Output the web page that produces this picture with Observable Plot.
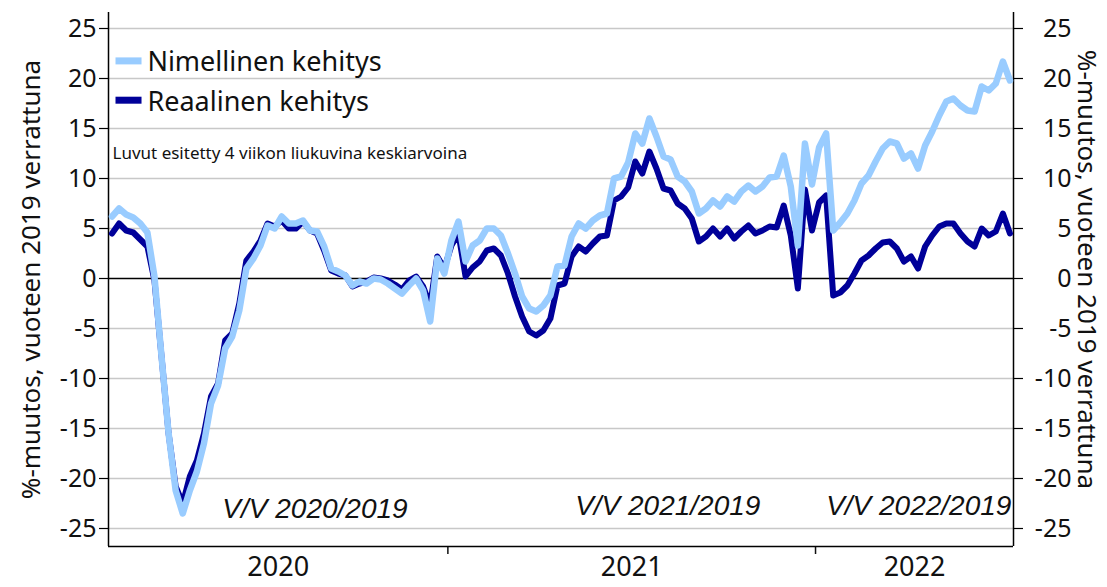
<!DOCTYPE html>
<html>
<head>
<meta charset="utf-8">
<script src="https://cdn.jsdelivr.net/npm/d3@7"></script>
<script src="https://cdn.jsdelivr.net/npm/@observablehq/plot@0.6"></script>
<style>
  html, body { margin: 0; padding: 0; background: #fff; }
  #chart svg { display: block; }
</style>
</head>
<body>
<div id="chart"></div>
<script>
// Weekly data, 2020 (from ~week 5) to 2022 (~week 32), 4-week moving averages
const nominal = [
  6.2, 7.0, 6.4, 6.1, 5.5, 4.6, 0.2, -7.8, -15.5, -21.2,
  -23.5, -21.2, -19.3, -16.5, -12.5, -10.7, -7.0, -5.8, -3.2, 1.0,
  2.0, 3.3, 5.3, 5.0, 6.2, 5.5, 5.5, 5.8, 4.8, 4.7,
  3.2, 1.0, 0.7, 0.3, -0.7, -0.3, -0.5, 0.0, -0.1, -0.5,
  -1.0, -1.5, -0.7, 0.0, -1.2, -4.3, 2.0, 0.5, 3.8, 5.7,
  1.7, 3.3, 3.8, 5.0, 5.0, 4.3, 2.5, 0.5, -1.8, -3.0,
  -3.3, -2.7, -1.7, 1.2, 1.3, 4.2, 5.5, 5.0, 5.8, 6.3,
  6.5, 10.0, 10.2, 11.6, 14.5, 13.5, 16.0, 14.2, 12.2, 11.9,
  10.2, 9.7, 8.7, 6.5, 7.0, 7.8, 7.2, 8.2, 7.7, 8.7,
  9.3, 8.7, 9.2, 10.1, 10.2, 12.3, 9.2, 3.3, 13.5, 9.4,
  13.1, 14.5, 4.8, 5.6, 6.5, 7.8, 9.5, 10.3, 11.7, 13.0,
  13.7, 13.5, 12.0, 12.5, 11.0, 13.3, 14.7, 16.3, 17.7, 18.0,
  17.3, 16.8, 16.7, 19.2, 18.8, 19.5, 21.7, 19.8
];
const real = [
  4.5, 5.5, 4.8, 4.6, 3.9, 3.2, -0.2, -7.8, -15.5, -20.8,
  -22.5, -19.8, -18.2, -15.5, -11.8, -10.5, -6.2, -5.5, -2.5, 1.8,
  2.7, 3.8, 5.5, 5.2, 5.8, 5.0, 5.0, 5.7, 4.8, 4.5,
  2.8, 0.8, 0.5, 0.3, -0.8, -0.5, -0.3, 0.1, 0.0, -0.2,
  -0.6, -1.1, -0.2, 0.2, -0.8, -2.7, 2.2, 1.0, 3.3, 4.5,
  0.2, 1.1, 1.7, 2.8, 3.0, 2.3, 0.5, -1.8, -3.8, -5.3,
  -5.7, -5.2, -4.0, -0.7, -0.5, 2.2, 3.2, 2.7, 3.5, 4.2,
  4.3, 7.8, 8.2, 9.1, 11.7, 10.5, 12.7, 11.0, 9.0, 8.8,
  7.5, 7.0, 6.0, 3.7, 4.2, 5.0, 4.2, 5.0, 4.0, 4.7,
  5.3, 4.5, 4.8, 5.2, 5.1, 7.3, 4.3, -1.0, 8.9, 4.8,
  7.6, 8.3, -1.7, -1.4, -0.7, 0.5, 1.8, 2.3, 3.0, 3.6,
  3.7, 3.0, 1.7, 2.2, 1.0, 3.2, 4.3, 5.2, 5.5, 5.5,
  4.5, 3.7, 3.2, 5.0, 4.3, 4.7, 6.5, 4.5
];
const seriesNames = ["Nimellinen kehitys", "Reaalinen kehitys"];
const seriesColors = ["#99ccff", "#000099"];
const yearLabels = ["2020", "2021", "2022"];
const yearWeekCounts = [48, 52, 28];  // weekly bands shown per year
const yTicks = [-25, -20, -15, -10, -5, 0, 5, 10, 15, 20, 25];
const yTitle = "%-muutos, vuoteen 2019 verrattuna";
const noteText = "Luvut esitetty 4 viikon liukuvina keskiarvoina";
const periodLabels = ["V/V 2020/2019", "V/V 2021/2019", "V/V 2022/2019"];
// annotation anchor positions (week index, value)
const periodX = [16.1, 66.0, 101.5];
const periodY = [-23.9, -23.6, -23.6];

// derived
const nWeeks = d3.sum(yearWeekCounts);
const yearStarts = d3.cumsum([0, ...yearWeekCounts]).slice(0, -1);
const yearBoundaries = yearStarts.slice(1);
const yearMids = yearStarts.map((s, i) => s + yearWeekCounts[i] / 2);
const rows = nominal.map((v, i) => ({x: i + 0.5, y: v, s: seriesNames[0]}));
const rowsReal = real.map((v, i) => ({x: i + 0.5, y: v, s: seriesNames[1]}));
const legendRows = [
  {s: seriesNames[0], x1: 0.99, x2: 4.67, y: 21.76, tx: 5.5, ty: 20.8, c: seriesColors[0]},
  {s: seriesNames[1], x1: 0.99, x2: 4.67, y: 17.83, tx: 5.5, ty: 16.8, c: seriesColors[1]}
];
const periods = periodLabels.map((t, i) => ({t, x: periodX[i], y: periodY[i]}));

const font = "'Noto Sans', 'Open Sans', sans-serif";
const yMin = -26.8, yMax = 26.6;
const axisText = {fontSize: 25, fontFamily: font, fontVariant: "normal"};

const chart = Plot.plot({
  width: 1107,
  height: 587,
  marginLeft: 108,
  marginRight: 94,
  marginTop: 12,
  marginBottom: 41,
  style: {fontFamily: font, color: "#111", background: "#fff"},
  x: {domain: [0, nWeeks], axis: null},
  y: {domain: [yMin, yMax], axis: null},
  marks: [
    // gridlines
    Plot.ruleY(yTicks.filter(d => d !== 0), {stroke: "#c8c8c8", strokeWidth: 1.5}),
    Plot.ruleY([0], {stroke: "#000", strokeWidth: 1.5}),
    // left axis
    Plot.axisY({anchor: "left", ticks: yTicks, tickSize: 9, tickPadding: 3, ...axisText,
      tickFormat: d => String(d), label: null, stroke: "#000", strokeWidth: 1.2}),
    // right axis: ticks, then right-aligned labels
    Plot.axisY({anchor: "right", ticks: yTicks, tickSize: 9, tickFormat: () => "", label: null,
      stroke: "#000", strokeWidth: 1.2}),
    Plot.axisY({anchor: "right", ticks: yTicks, tickSize: 0, tickPadding: 12, ...axisText,
      tickFormat: d => String(d), label: null, textAnchor: "end", dx: 46}),
    // x axis: year separators and year labels
    Plot.axisX({anchor: "bottom", ticks: yearBoundaries, tickSize: 8, tickFormat: () => "", label: null, strokeWidth: 1.5}),
    Plot.axisX({anchor: "bottom", ticks: yearMids, tickSize: 0, tickPadding: 10, fontSize: 27, fontVariant: "normal",
      tickFormat: (d, i) => yearLabels[i], label: null}),
    Plot.ruleX([0, nWeeks], {y1: yMin, y2: yMax, stroke: "#000", strokeWidth: 1.5}),
    Plot.ruleY([yMin], {x1: 0, x2: nWeeks, stroke: "#000", strokeWidth: 1.5}),
    // axis titles
    Plot.text([yTitle], {frameAnchor: "left", textAnchor: "middle", rotate: -90, dx: -77, dy: 0, fontSize: 26, fill: "#111"}),
    Plot.text([yTitle], {frameAnchor: "right", textAnchor: "middle", rotate: 90, dx: 73, dy: -10, fontSize: 26, fill: "#111"}),
    // series
    Plot.line(rowsReal, {x: "x", y: "y", stroke: seriesColors[1], strokeWidth: 6, strokeLinejoin: "round"}),
    Plot.line(rows, {x: "x", y: "y", stroke: seriesColors[0], strokeWidth: 6.5, strokeLinejoin: "round"}),
    // legend
    Plot.link(legendRows, {x1: "x1", x2: "x2", y1: "y", y2: "y", stroke: "c", strokeWidth: 7}),
    Plot.text(legendRows, {x: "tx", y: "ty", text: "s", textAnchor: "start", lineAnchor: "bottom", fontSize: 27, fill: "#111"}),
    // note
    Plot.text([noteText], {x: 0.57, y: 12.0, textAnchor: "start", lineAnchor: "bottom", fontSize: 17, fill: "#111"}),
    // period annotations
    Plot.text(periods, {x: "x", y: "y", text: "t", textAnchor: "start", lineAnchor: "bottom",
      fontSize: 28, fontStyle: "italic", fill: "#111", fontFamily: "'Liberation Sans Narrow', 'Liberation Sans', sans-serif"})
  ]
});
document.getElementById("chart").appendChild(chart);
</script>
</body>
</html>
